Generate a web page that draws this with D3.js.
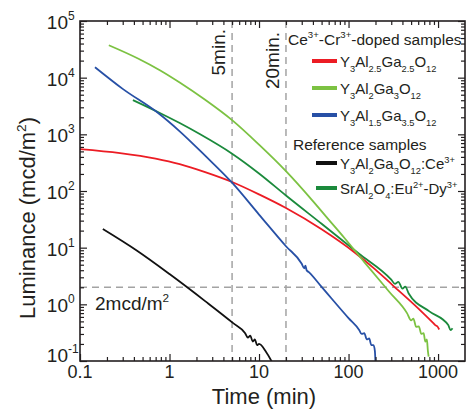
<!DOCTYPE html>
<html lang="en">
<head>
<meta charset="UTF-8">
<title>Afterglow decay curves</title>
<script src="https://cdn.jsdelivr.net/npm/d3@7"></script>
<style>
    body { margin: 0; background: #fff; }
    svg text { font-family: "Liberation Sans", Arial, sans-serif; fill: #231f20; }
</style>
</head>
<body>
<div id="chart"></div>
<script>
// time (min) / luminance (mcd/m2)
var redTime = [0.1, 0.28, 0.7, 1.3, 2.5, 5, 10, 20, 50, 116, 200, 310, 600, 880, 930, 980, 1030];
var redLum  = [548, 466, 373, 298, 215, 144, 87, 50, 21.1, 8.3, 4.1, 2.19, 0.85, 0.47, 0.43, 0.41, 0.36];

var greenTime = [0.21, 0.45, 0.78, 1.3, 2.5, 5, 10, 20, 40, 60, 90, 150, 286, 450, 500, 530, 570, 610, 650, 690, 720, 750, 770, 785];
var greenLum  = [37400, 21600, 13550, 8220, 4070, 1780, 658, 224, 66.4, 31.3, 14.8, 5.57, 1.65, 0.7, 0.52, 0.56, 0.4, 0.41, 0.3, 0.31, 0.22, 0.24, 0.15, 0.12];

var blueTime = [0.147, 0.3, 0.74, 1.3, 2.5, 5, 10, 20, 30, 32, 33, 34, 36, 50, 100, 132, 140, 150, 160, 170, 180, 190, 197, 200];
var blueLum  = [15300, 6340, 2400, 1130, 420, 140, 38.4, 10.6, 5.2, 4.3, 4.8, 4.0, 3.7, 2.03, 0.57, 0.35, 0.3, 0.31, 0.24, 0.25, 0.19, 0.19, 0.15, 0.09];

var blackTime = [0.18, 0.43, 1.0, 2.5, 5.1, 7, 7.5, 8, 8.5, 9, 9.5, 10, 12, 14];
var blackLum  = [21.3, 8.9, 3.42, 1.14, 0.47, 0.31, 0.26, 0.28, 0.22, 0.24, 0.19, 0.2, 0.144, 0.095];

var darkTime = [0.39, 0.8, 1.3, 2.2, 5, 10, 20, 50, 130, 300, 330, 360, 400, 430, 470, 800, 1300, 1380, 1450];
var darkLum  = [4010, 2330, 1580, 1000, 455, 204, 83.3, 26.4, 7.9, 2.73, 2.3, 2.5, 1.9, 2.05, 1.55, 0.75, 0.43, 0.35, 0.38];

var xTicks = [0.1, 1, 10, 100, 1000];
var xTickLabels = ["0.1", "1", "10", "100", "1000"];
var yTicks = [0.1, 1, 10, 100, 1000, 10000, 100000];
var yTickPowers = ["-1", "0", "1", "2", "3", "4", "5"];
var markerTimes = [5, 20];
var markerLabels = ["5min.", "20min."];
var thresholdLum = 2;

var width = 470;
var height = 410;

var x = d3.scaleLog().domain([0.1, 2000]).range([80, 465]);
var y = d3.scaleLog().domain([0.1, 100000]).range([361, 21]);

var svg = d3.select("#chart")
        .append("svg")
        .attr("width", width)
        .attr("height", height);

// minor tick values
function minors(lo, hi) {
    var out = [];
    for (var p = -1; p <= 5; p++) {
        for (var k = 2; k <= 9; k++) {
            var v = k * Math.pow(10, p);
            if (v > lo && v < hi) out.push(+v.toPrecision(3));
        }
    }
    return out;
}
var xMinor = minors(0.1, 2000);
var yMinor = minors(0.1, 100000);

// rich text with sub / superscripts
function rich(sel, parts, size) {
    var shift = 0;
    parts.forEach(function (p) {
        var target = p[1] === "sub" ? size * 0.32 : (p[1] === "sup" ? -size * 0.42 : 0);
        sel.append("tspan")
                .attr("dy", target - shift)
                .style("font-size", (p[1] ? size * 0.62 : size) + "px")
                .text(p[0]);
        shift = target;
    });
}

// dashed guides
svg.selectAll("line.marker")
        .data(markerTimes)
        .enter()
        .append("line")
        .attr("class", "marker")
        .attr("x1", function (d) { return x(d); })
        .attr("x2", function (d) { return x(d); })
        .attr("y1", y.range()[1])
        .attr("y2", y.range()[0])
        .attr("stroke", "#a3a3a3")
        .attr("stroke-width", 1.5)
        .attr("stroke-dasharray", "7,5");

svg.append("line")
        .attr("x1", x.range()[0])
        .attr("x2", x.range()[1])
        .attr("y1", y(thresholdLum))
        .attr("y2", y(thresholdLum))
        .attr("stroke", "#a3a3a3")
        .attr("stroke-width", 1.5)
        .attr("stroke-dasharray", "7,5");

// curves
svg.append("clipPath")
        .attr("id", "plot")
        .append("rect")
        .attr("x", 80)
        .attr("y", 21)
        .attr("width", 385)
        .attr("height", 340);

var line = d3.line()
        .x(function (d) { return x(d[0]); })
        .y(function (d) { return y(d[1]); })
        .curve(d3.curveMonotoneX);

var series = [
    {time: blackTime, lum: blackLum, color: "#111111"},
    {time: darkTime, lum: darkLum, color: "#1b8a3c"},
    {time: redTime, lum: redLum, color: "#ec1c24"},
    {time: blueTime, lum: blueLum, color: "#2750a6"},
    {time: greenTime, lum: greenLum, color: "#7cc242"}
];

svg.append("g")
        .attr("clip-path", "url(#plot)")
        .selectAll("path")
        .data(series)
        .enter()
        .append("path")
        .attr("fill", "none")
        .attr("stroke", function (d) { return d.color; })
        .attr("stroke-width", 1.8)
        .attr("d", function (d) {
            return line(d.time.map(function (t, i) { return [t, d.lum[i]]; }));
        });

// frame and inward ticks
function tickAxis(axis, pos, vals, size) {
    svg.append("g")
            .attr("transform", pos)
            .call(axis.tickValues(vals).tickSize(-size).tickFormat(""))
            .call(function (g) {
                g.select(".domain").remove();
                g.selectAll("line").attr("stroke", "#231f20").attr("stroke-width", 1.2);
            });
}
tickAxis(d3.axisBottom(x), "translate(0,361)", xTicks, 7);
tickAxis(d3.axisBottom(x), "translate(0,361)", xMinor, 4);
tickAxis(d3.axisTop(x), "translate(0,21)", xTicks, 7);
tickAxis(d3.axisTop(x), "translate(0,21)", xMinor, 4);
tickAxis(d3.axisLeft(y), "translate(80,0)", yTicks, 7);
tickAxis(d3.axisLeft(y), "translate(80,0)", yMinor, 4);
tickAxis(d3.axisRight(y), "translate(465,0)", yTicks, 7);
tickAxis(d3.axisRight(y), "translate(465,0)", yMinor, 4);

svg.append("rect")
        .attr("x", 80)
        .attr("y", 21)
        .attr("width", 385)
        .attr("height", 340)
        .attr("fill", "none")
        .attr("stroke", "#231f20")
        .attr("stroke-width", 1.6);

// tick labels
svg.selectAll("text.xl")
        .data(xTicks)
        .enter()
        .append("text")
        .attr("class", "xl")
        .attr("x", function (d) { return x(d); })
        .attr("y", 378)
        .attr("text-anchor", "middle")
        .style("font-size", "18px")
        .text(function (d, i) { return xTickLabels[i]; });

svg.selectAll("text.yl")
        .data(yTicks)
        .enter()
        .append("text")
        .attr("class", "yl")
        .attr("x", 68)
        .attr("y", function (d, i) { return y(d) + (i === 0 ? 1 : 8); })
        .attr("text-anchor", "end")
        .style("font-size", "19px")
        .text("10");

svg.selectAll("text.yp")
        .data(yTicks)
        .enter()
        .append("text")
        .attr("class", "yp")
        .attr("x", 68)
        .attr("y", function (d, i) { return y(d) + (i === 0 ? 1 : 8) - 9; })
        .style("font-size", "12px")
        .text(function (d, i) { return yTickPowers[i]; });

// axis titles
svg.append("text")
        .attr("x", 264)
        .attr("y", 404)
        .attr("text-anchor", "middle")
        .style("font-size", "22px")
        .text("Time (min)");

var yTitle = svg.append("text")
        .attr("transform", "translate(35,218) rotate(-90)")
        .attr("text-anchor", "middle")
        .style("font-size", "22px");
rich(yTitle, [["Luminance (mcd/m"], ["2", "sup"], [")"]], 22);

// guide labels
svg.selectAll("text.ml")
        .data(markerTimes)
        .enter()
        .append("text")
        .attr("class", "ml")
        .attr("transform", function (d, i) {
            return "translate(" + (x(d) - 7) + "," + (i === 0 ? 29 : 32) + ") rotate(-90)";
        })
        .attr("text-anchor", "end")
        .style("font-size", "19px")
        .text(function (d, i) { return markerLabels[i]; });

var thr = svg.append("text")
        .attr("x", 95)
        .attr("y", 310)
        .style("font-size", "19px");
rich(thr, [["2mcd/m"], ["2", "sup"]], 19);

// legend
var legendItems = [
    {head: [["Ce"], ["3+", "sup"], ["-Cr"], ["3+", "sup"], ["-doped samples"]], x: 288, y: 45},
    {color: "#ec1c24", y: 61, x0: 312, parts: [["Y"], ["3", "sub"], ["Al"], ["2.5", "sub"], ["Ga"], ["2.5", "sub"], ["O"], ["12", "sub"]]},
    {color: "#7cc242", y: 88, x0: 312, parts: [["Y"], ["3", "sub"], ["Al"], ["2", "sub"], ["Ga"], ["3", "sub"], ["O"], ["12", "sub"]]},
    {color: "#2750a6", y: 115, x0: 312, parts: [["Y"], ["3", "sub"], ["Al"], ["1.5", "sub"], ["Ga"], ["3.5", "sub"], ["O"], ["12", "sub"]]},
    {head: [["Reference samples"]], x: 293, y: 150},
    {color: "#111111", y: 163, x0: 316, parts: [["Y"], ["3", "sub"], ["Al"], ["2", "sub"], ["Ga"], ["3", "sub"], ["O"], ["12", "sub"], [":Ce"], ["3+", "sup"]]},
    {color: "#1b8a3c", y: 188, x0: 316, parts: [["SrAl"], ["2", "sub"], ["O"], ["4", "sub"], [":Eu"], ["2+", "sup"], ["-Dy"], ["3+", "sup"]]}
];

legendItems.forEach(function (d) {
    if (d.head) {
        var h = svg.append("text")
                .attr("x", d.x)
                .attr("y", d.y)
                .style("font-size", "15.5px");
        rich(h, d.head, 15.5);
        return;
    }
    svg.append("line")
            .attr("x1", d.x0)
            .attr("x2", 337)
            .attr("y1", d.y)
            .attr("y2", d.y)
            .attr("stroke", d.color)
            .attr("stroke-width", 4);
    var t = svg.append("text")
            .attr("x", 340)
            .attr("y", d.y + 6)
            .style("font-size", "15px");
    rich(t, d.parts, 15);
});
</script>
</body>
</html>
